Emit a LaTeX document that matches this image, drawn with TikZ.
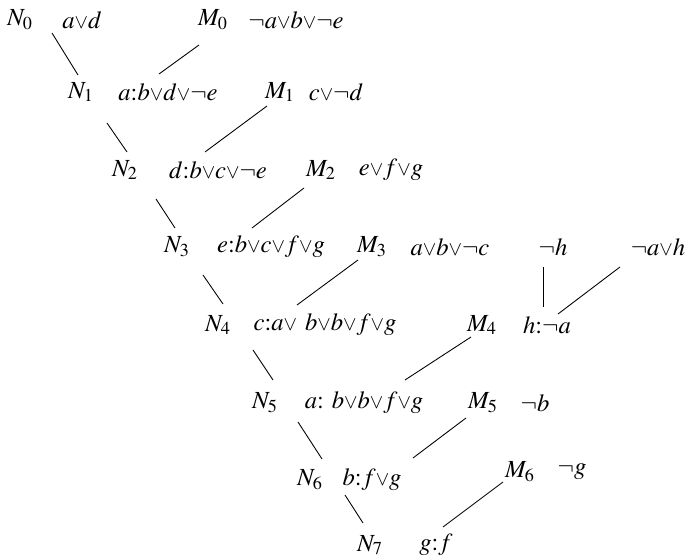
\documentclass[tikz,border=0pt]{standalone}
\usepackage{mathptmx}
\usepackage{graphicx}
\newcommand{\lv}{\mathord{\scalebox{0.82}{$\vee$}}}
\begin{document}
\begin{tikzpicture}[
    x=0.02cm, y=-0.02cm,
    every node/.style={inner sep=0pt, font=\fontsize{14}{16}\selectfont},
    edge/.style={line width=0.5pt}
]
    \useasboundingbox (0,0) rectangle (687,560);

    % Zeile 0
    \node (n0) at (20,20)  {$N_0$};
    \node (c0) at (82,20)  {$a\lv d$};
    \node (m0) at (213,20) {$M_0$};
    \node (k0) at (296,20) {$\neg a\lv b\lv\neg e$};
    % Zeile 1
    \node (n1) at (81,92)   {$N_1$};
    \node (r1) at (168,92)  {$a{:}b\lv d\lv\neg e$};
    \node (m1) at (280,92)  {$M_1$};
    \node (k1) at (336,92)  {$c\lv\neg d$};
    % Zeile 2
    \node (n2) at (125,170) {$N_2$};
    \node (r2) at (218,170) {$d{:}b\lv c\lv\neg e$};
    \node (m2) at (321,170) {$M_2$};
    \node (k2) at (391,170) {$e\lv f\lv g$};
    % Zeile 3
    \node (n3) at (177,247) {$N_3$};
    \node (r3) at (271,247) {$e{:}b\lv c\lv f\lv g$};
    \node (m3) at (372,247) {$M_3$};
    \node (k3) at (450,247) {$a\lv b\lv\neg c$};
    \node (h0) at (553,247) {$\neg h$};
    \node (h1) at (658,247) {$\neg a\lv h$};
    % Zeile 4
    \node (n4) at (218,325) {$N_4$};
    \node (r4) at (325,325) {$c{:}a\lv\ b\lv b\lv f\lv g$};
    \node (m4) at (482,325) {$M_4$};
    \node (hr) at (547,325) {$h{:}\neg a$};
    % Zeile 5
    \node (n5) at (265,403) {$N_5$};
    \node (r5) at (364,403) {$a{:}\ b\lv b\lv f\lv g$};
    \node (m5) at (483,403) {$M_5$};
    \node (k5) at (535,403) {$\neg b$};
    % Zeile 6
    \node (n6) at (310,480) {$N_6$};
    \node (r6) at (372,480) {$b{:}f\lv g$};
    \node (m6) at (520,472) {$M_6$};
    \node (k6) at (572,472) {$\neg g$};
    % Zeile 7
    \node (n7) at (370,545) {$N_7$};
    \node (r7) at (436,545) {$g{:}f$};

    % Verbindungen
    \draw[edge] ([shift={(32,13)}]n0.center)  -- ([shift={(-3,-17)}]n1.center);
    \draw[edge] ([shift={(-14,25)}]m0.center) -- ([shift={(-9,-18)}]r1.center);
    \draw[edge] ([shift={(26,31)}]n1.center)  -- ([shift={(2,-18)}]n2.center);
    \draw[edge] ([shift={(-13,14)}]m1.center) -- ([shift={(-13,-18)}]r2.center);
    \draw[edge] ([shift={(31,29)}]n2.center)  -- ([shift={(-2,-19)}]n3.center);
    \draw[edge] ([shift={(-17,18)}]m2.center) -- ([shift={(-19,-19)}]r3.center);
    \draw[edge] ([shift={(26,28)}]n3.center)  -- ([shift={(5,-21)}]n4.center);
    \draw[edge] ([shift={(-14,13)}]m3.center) -- ([shift={(-28,-20)}]r4.center);
    \draw[edge] ([shift={(-10,20)}]h0.center) -- ([shift={(-4,-18)}]hr.center);
    \draw[edge] ([shift={(-38,20)}]h1.center) -- ([shift={(11,-11)}]hr.center);
    \draw[edge] ([shift={(35,25)}]n4.center)  -- ([shift={(8,-23)}]n5.center);
    \draw[edge] ([shift={(-11,12)}]m4.center) -- ([shift={(41,-23)}]r5.center);
    \draw[edge] ([shift={(33,19)}]n5.center)  -- ([shift={(12,-21)}]n6.center);
    \draw[edge] ([shift={(-17,15)}]m5.center) -- ([shift={(41,-22)}]r6.center);
    \draw[edge] ([shift={(35,15)}]n6.center)  -- ([shift={(-7,-22)}]n7.center);
    \draw[edge] ([shift={(-17,10)}]m6.center) -- ([shift={(7,-18)}]r7.center);
\end{tikzpicture}
\end{document}
